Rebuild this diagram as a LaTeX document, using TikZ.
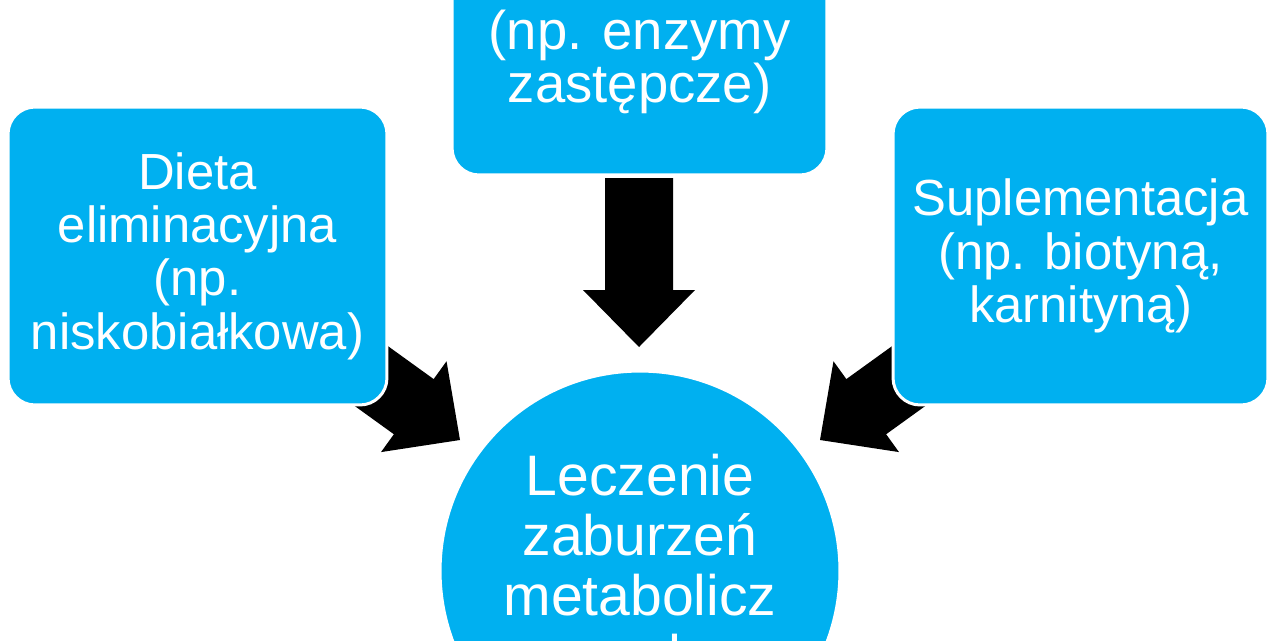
\documentclass[tikz,border=0pt]{standalone}
\usepackage{fontspec}
\setmainfont{Liberation Sans}
\definecolor{cyanbox}{RGB}{0,176,240}
\tikzset{
  box/.style={fill=cyanbox, draw=white, line width=0.06cm, rounded corners=0.54cm,
    minimum height=5.96cm, inner sep=0pt, text=white, align=center},
  sidefont/.style={font=\fontsize{28.9pt}{30.4pt}\selectfont},
  topfont/.style={font=\fontsize{31pt}{30pt}\selectfont},
  circfont/.style={font=\fontsize{32.5pt}{34.1pt}\selectfont},
  hub/.style={circle, fill=cyanbox, draw=white, line width=0.06cm, minimum size=8cm,
    inner sep=0pt, text=white, align=center},
  blockarrow/.style={fill=black}
}
\begin{document}
\begin{tikzpicture}[x=0.02cm, y=-0.02cm]
\path[use as bounding box, clip] (0,0) rectangle (1280,640);
\fill[white] (0,0) rectangle (1280,640);
% block arrows (drawn first, beneath the boxes)
\fill[blockarrow, shift={(639,347)}, rotate=-90]
  (0,0) -- (-57,56) -- (-57,34) -- (-169,34) -- (-169,-34) -- (-57,-34) -- (-57,-56) -- cycle;
\fill[blockarrow, shift={(460,440)}, rotate=-35.8]
  (0,0) -- (-57,56) -- (-57,34) -- (-169,34) -- (-169,-34) -- (-57,-34) -- (-57,-56) -- cycle;
\fill[blockarrow, shift={(820,440)}, rotate=-144.2]
  (0,0) -- (-57,56) -- (-57,34) -- (-169,34) -- (-169,-34) -- (-57,-34) -- (-57,-56) -- cycle;
% boxes
\node[box, sidefont, minimum width=7.58cm] (left) at (197.5,256)
  {Dieta\\eliminacyjna\\(np.\\niskobiałkowa)};
\node[box, sidefont, minimum width=7.5cm] (right) at (1080.5,256)
  {Suplementacja\\(np. biotyną,\\karnityną)};
\node[box, minimum width=7.5cm] (top) at (639.5,26) {};
\node[topfont, text=white, align=center, inner sep=0pt] (toptext) at (639.5,62)
  {(np. enzymy\\zastępcze)};
\node[hub, circfont] (hub) at (640,571)
  {Leczenie\\zaburzeń\\metabolicz\\nych};
\end{tikzpicture}
\end{document}
